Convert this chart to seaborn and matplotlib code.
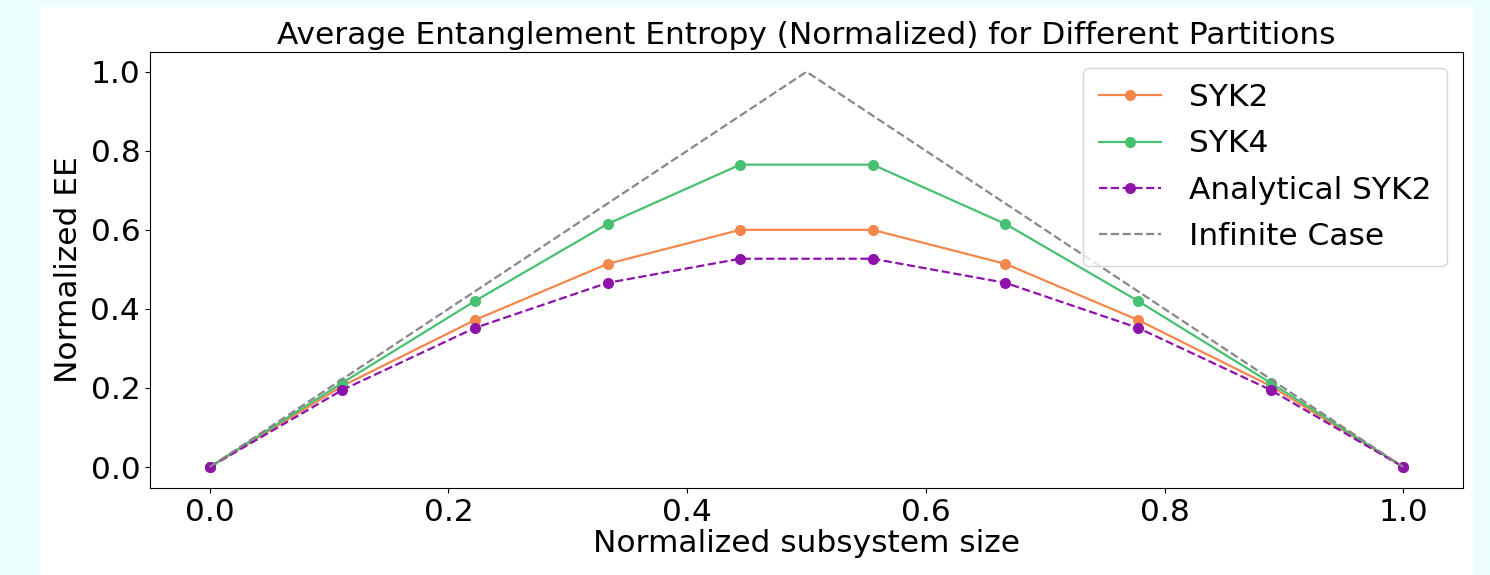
import numpy as np
import pandas as pd
import matplotlib
matplotlib.use("Agg")
import matplotlib.pyplot as plt
import seaborn as sns
from matplotlib.patches import Rectangle

# Data
x_sizes = [0, 1/9, 2/9, 3/9, 4/9, 5/9, 6/9, 7/9, 8/9, 1]
syk2 = [0.0, 0.205, 0.372, 0.514, 0.600, 0.600, 0.514, 0.372, 0.205, 0.0]
syk4 = [0.0, 0.213, 0.420, 0.615, 0.765, 0.765, 0.615, 0.420, 0.213, 0.0]
analytical_syk2 = [0.0, 0.195, 0.352, 0.466, 0.527, 0.527, 0.466, 0.352, 0.195, 0.0]
inf_x = [0.0, 0.5, 1.0]
inf_y = [0.0, 1.0, 0.0]

c_orange = "#f4874b"
c_green = "#48c072"
c_purple = "#8f12ab"
c_gray = "#888888"

fig = plt.figure(figsize=(14.9, 5.75), dpi=100, facecolor="#ebfdfd")
fig.patches.append(Rectangle((40 / 1490, 0), (1473 - 40) / 1490, (575 - 7) / 575,
                             transform=fig.transFigure, facecolor="white",
                             edgecolor="none", zorder=-10))
ax = fig.add_axes([150 / 1490, 1 - 488 / 575, (1463 - 150) / 1490, (488 - 52) / 575])
ax.set_zorder(5)

df = pd.DataFrame({"x": x_sizes, "SYK2": syk2, "SYK4": syk4, "Analytical SYK2": analytical_syk2})

ms = 8
sns.lineplot(data=df, x="x", y="SYK2", ax=ax, color=c_orange, marker="o",
             markersize=ms, markeredgewidth=0, linewidth=1.6, label="SYK2")
sns.lineplot(data=df, x="x", y="SYK4", ax=ax, color=c_green, marker="o",
             markersize=ms, markeredgewidth=0, linewidth=1.6, label="SYK4")
sns.lineplot(data=df, x="x", y="Analytical SYK2", ax=ax, color=c_purple, marker="o",
             markersize=ms, markeredgewidth=0, linewidth=1.6, linestyle="--",
             label="Analytical SYK2")
sns.lineplot(x=inf_x, y=inf_y, ax=ax, color=c_gray, linewidth=1.6, linestyle="--",
             label="Infinite Case")

ax.set_xlim(-0.05, 1.05)
ax.set_ylim(-0.053, 1.05)
ax.set_xticks([0.0, 0.2, 0.4, 0.6, 0.8, 1.0])
ax.set_yticks([0.0, 0.2, 0.4, 0.6, 0.8, 1.0])
ax.tick_params(labelsize=22.5)
ax.set_xlabel("Normalized subsystem size", fontsize=22.5, labelpad=2)
ax.set_ylabel("Normalized EE", fontsize=22.5, labelpad=5)
ax.set_title("Average Entanglement Entropy (Normalized) for Different Partitions", fontsize=22.5)
ax.legend(loc="upper right", fontsize=22.5, labelspacing=0.55, borderpad=0.5,
          handletextpad=0.9)

fig.savefig("out.png", dpi=100, facecolor=fig.get_facecolor())
